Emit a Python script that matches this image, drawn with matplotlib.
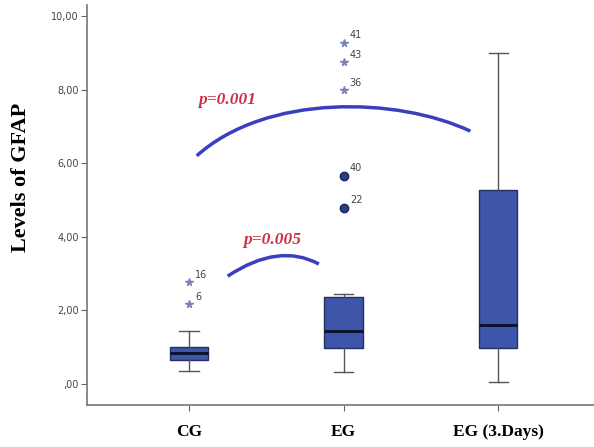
import matplotlib
matplotlib.use('Agg')
import matplotlib.pyplot as plt
from matplotlib.path import Path
from matplotlib.patches import PathPatch

# box statistics
groups = ['CG', 'EG', 'EG (3.Days)']
q1 = [0.65, 0.98, 0.98]
med = [0.84, 1.44, 1.60]
q3 = [1.00, 2.36, 5.27]
wlo = [0.35, 0.33, 0.05]
whi = [1.44, 2.44, 9.00]

# outliers: (group index, value, case id, extreme?)
out_grp = [1, 1, 2, 2, 2, 2, 2]
out_val = [2.77, 2.17, 9.27, 8.75, 7.99, 5.66, 4.79]
out_id = ['16', '6', '41', '43', '36', '40', '22']
out_ext = [True, True, True, True, True, False, False]

# significance curves (bezier control points, data units)
big_x = [1.05, 1.50, 2.35, 2.82]
big_y = [6.20, 7.90, 7.80, 6.87]
small_x = [1.25, 1.58, 1.84]
small_y = [2.93, 3.85, 3.26]
p_labels = ['p=0.001', 'p=0.005']
p_pos = [(1.25, 7.72), (1.54, 3.90)]

yticks = [0, 2, 4, 6, 8, 10]
ytick_labels = [',00', '2,00', '4,00', '6,00', '8,00', '10,00']

fig = plt.figure(figsize=(5.94, 4.47), dpi=100)
ax = fig.add_axes([0.1465, 0.094, 0.8535, 0.895])

stats = []
for i in range(3):
    stats.append({'q1': q1[i], 'med': med[i], 'q3': q3[i],
                  'whislo': wlo[i], 'whishi': whi[i], 'fliers': []})

ax.bxp(stats, positions=[1, 2, 3], widths=0.25, capwidths=0.125,
       patch_artist=True, showfliers=False,
       boxprops=dict(facecolor='#3d56aa', edgecolor='#23305e', linewidth=1),
       medianprops=dict(color='#0a0f25', linewidth=2),
       whiskerprops=dict(color='#555555', linewidth=1),
       capprops=dict(color='#555555', linewidth=1))

for g, v, lab, ext in zip(out_grp, out_val, out_id, out_ext):
    if ext:
        ax.plot(g, v, marker='*', color='#7a82b8', markersize=5.5, linestyle='none')
    else:
        ax.plot(g, v, marker='o', color='#2b3f85', markeredgecolor='#1b2650',
                markersize=6, linestyle='none')
    ax.text(g + 0.04, v + 0.12, lab, fontsize=7, color='#444444',
            family='DejaVu Sans')

big = Path(list(zip(big_x, big_y)),
           [Path.MOVETO, Path.CURVE4, Path.CURVE4, Path.CURVE4])
ax.add_patch(PathPatch(big, facecolor='none', edgecolor='#3a3fc0', linewidth=2.5))
small = Path(list(zip(small_x, small_y)),
             [Path.MOVETO, Path.CURVE3, Path.CURVE3])
ax.add_patch(PathPatch(small, facecolor='none', edgecolor='#3a3fc0', linewidth=2.5))

for lab, (px, py) in zip(p_labels, p_pos):
    ax.text(px, py, lab, color='#cc3049', fontsize=12.5, fontweight='bold',
            fontstyle='italic', family='Liberation Serif', ha='center', va='center')

ax.set_xlim(0.34, 3.62)
ax.set_ylim(-0.57, 10.3)
ax.set_yticks(yticks)
ax.set_yticklabels(ytick_labels, fontsize=7, color='#444444')
ax.set_xticks([1, 2, 3])
ax.set_xticklabels(groups, fontsize=12.5, fontweight='bold', family='Liberation Serif')
ax.tick_params(axis='x', length=4, pad=10, color='#666666')
ax.tick_params(axis='y', length=4, pad=2, color='#666666')
for s in ['top', 'right']:
    ax.spines[s].set_visible(False)
for s in ['left', 'bottom']:
    ax.spines[s].set_color('#777777')
    ax.spines[s].set_linewidth(1.2)

ax.set_ylabel('Levels of GFAP', fontsize=16, fontweight='bold',
              family='Liberation Serif')
ax.yaxis.set_label_coords(-0.11, 0.57)

fig.savefig('out.png', dpi=100)
